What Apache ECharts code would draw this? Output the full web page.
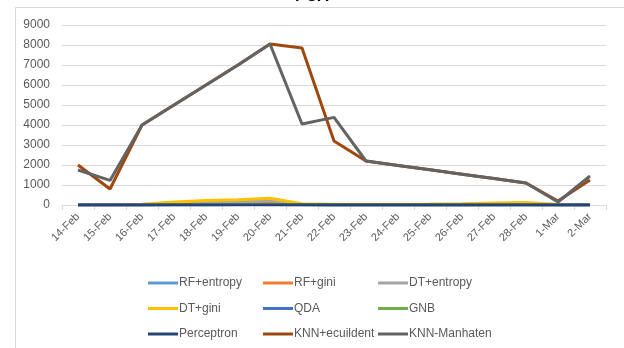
<!DOCTYPE html>
<html>
<head>
<meta charset="utf-8">
<script src="https://cdn.jsdelivr.net/npm/echarts@6/dist/echarts.min.js"></script>
<style>
  html, body { margin: 0; padding: 0; background: #fff; }
  #chart { width: 624px; height: 348px; }
</style>
</head>
<body>
<div id="chart"></div>
<script>
// Dates on the x axis
const days = ['14-Feb','15-Feb','16-Feb','17-Feb','18-Feb','19-Feb','20-Feb','21-Feb','22-Feb',
              '23-Feb','24-Feb','25-Feb','26-Feb','27-Feb','28-Feb','1-Mar','2-Mar'];

// Values per classifier
const rfEntropy   = [10, 10, 15, 30, 40, 50, 60, 20, 15, 15, 15, 15, 15, 20, 20, 10, 10];
const rfGini      = [10, 10, 15, 35, 45, 55, 70, 20, 15, 15, 15, 15, 15, 20, 25, 10, 10];
const dtEntropy   = [15, 15, 20, 80, 120, 160, 220, 40, 25, 25, 25, 25, 30, 50, 60, 15, 15];
const dtGini      = [20, 20, 40, 150, 220, 260, 340, 60, 40, 40, 40, 45, 60, 100, 120, 20, 20];
const qda         = [5, 5, 5, 10, 15, 20, 25, 10, 5, 5, 5, 5, 5, 5, 5, 5, 5];
const gnb         = [5, 5, 5, 10, 15, 20, 25, 10, 5, 5, 5, 5, 5, 5, 5, 5, 5];
const perceptron  = [0, 0, 0, 0, 0, 0, 0, 0, 0, 0, 0, 0, 0, 0, 0, 0, 0];
const knnEuclid   = [2000, 800, 4000, 5000, 6000, 7000, 8050, 7850, 3200, 2200, 1980, 1760, 1540, 1320, 1100, 200, 1250];
const knnManhattan= [1750, 1230, 4000, 5000, 6000, 7000, 8050, 4050, 4380, 2200, 1980, 1760, 1540, 1320, 1100, 150, 1450];

// Y axis ticks
const yTicks = [0, 1000, 2000, 3000, 4000, 5000, 6000, 7000, 8000, 9000];

const seriesDefs = [
  { name: 'RF+entropy',    data: rfEntropy,    color: '#5B9BD5' },
  { name: 'RF+gini',       data: rfGini,       color: '#ED7D31' },
  { name: 'DT+entropy',    data: dtEntropy,    color: '#A5A5A5' },
  { name: 'DT+gini',       data: dtGini,       color: '#FFC000' },
  { name: 'QDA',           data: qda,          color: '#4472C4' },
  { name: 'GNB',           data: gnb,          color: '#70AD47' },
  { name: 'Perceptron',    data: perceptron,   color: '#264478' },
  { name: 'KNN+ecuildent', data: knnEuclid,    color: '#9E480E' },
  { name: 'KNN-Manhaten',  data: knnManhattan, color: '#636363' }
];

// Legend laid out as a 3 x 3 grid, one legend component per entry
const legendCols = [148, 263, 378];
const legendTops = [277, 302.5, 328];
const legends = seriesDefs.map((s, i) => ({
  data: [{ name: s.name, icon: 'rect' }],
  left: legendCols[i % 3],
  top: legendTops[Math.floor(i / 3)],
  itemWidth: 30,
  itemHeight: 3,
  padding: 0,
  selectedMode: false,
  textStyle: { color: '#595959', fontSize: 12, fontFamily: 'Liberation Sans, Arial, sans-serif', padding: [0, 0, 0, -4] }
}));

const chart = echarts.init(document.getElementById('chart'), null, { renderer: 'canvas' });
chart.setOption({
  backgroundColor: '#ffffff',
  animation: false,
  title: {
    text: 'PCA',
    left: 'center',
    top: -11,
    padding: 0,
    textStyle: { color: '#000', fontSize: 16, fontWeight: 'bold', fontFamily: 'Liberation Sans, Arial, sans-serif' }
  },
  graphic: [{
    type: 'rect',
    shape: { x: 15.5, y: 7.5, width: 700, height: 400 },
    style: { fill: 'none', stroke: '#d9d9d9', lineWidth: 1 },
    z: -1
  }],
  legend: legends,
  grid: { left: 62, right: 18, top: 25, bottom: 143, containLabel: false },
  xAxis: {
    type: 'category',
    data: days,
    boundaryGap: true,
    axisLine: { lineStyle: { color: '#d9d9d9', width: 1 } },
    axisTick: { show: true, length: 5, lineStyle: { color: '#d9d9d9' } },
    axisLabel: { rotate: 45, color: '#595959', fontSize: 11, margin: 10, fontFamily: 'Liberation Sans, Arial, sans-serif' }
  },
  yAxis: {
    type: 'value',
    min: yTicks[0],
    max: yTicks[yTicks.length - 1],
    interval: 1000,
    axisLine: { show: false },
    axisTick: { show: false },
    splitLine: { lineStyle: { color: '#d9d9d9', width: 1 } },
    axisLabel: { color: '#595959', fontSize: 12, margin: 12, formatter: v => String(v), fontFamily: 'Liberation Sans, Arial, sans-serif' }
  },
  series: seriesDefs.map(s => ({
    name: s.name,
    type: 'line',
    data: s.data,
    showSymbol: false,
    symbol: 'none',
    lineStyle: { color: s.color, width: 3 },
    itemStyle: { color: s.color },
    emphasis: { disabled: true }
  }))
});
</script>
</body>
</html>
